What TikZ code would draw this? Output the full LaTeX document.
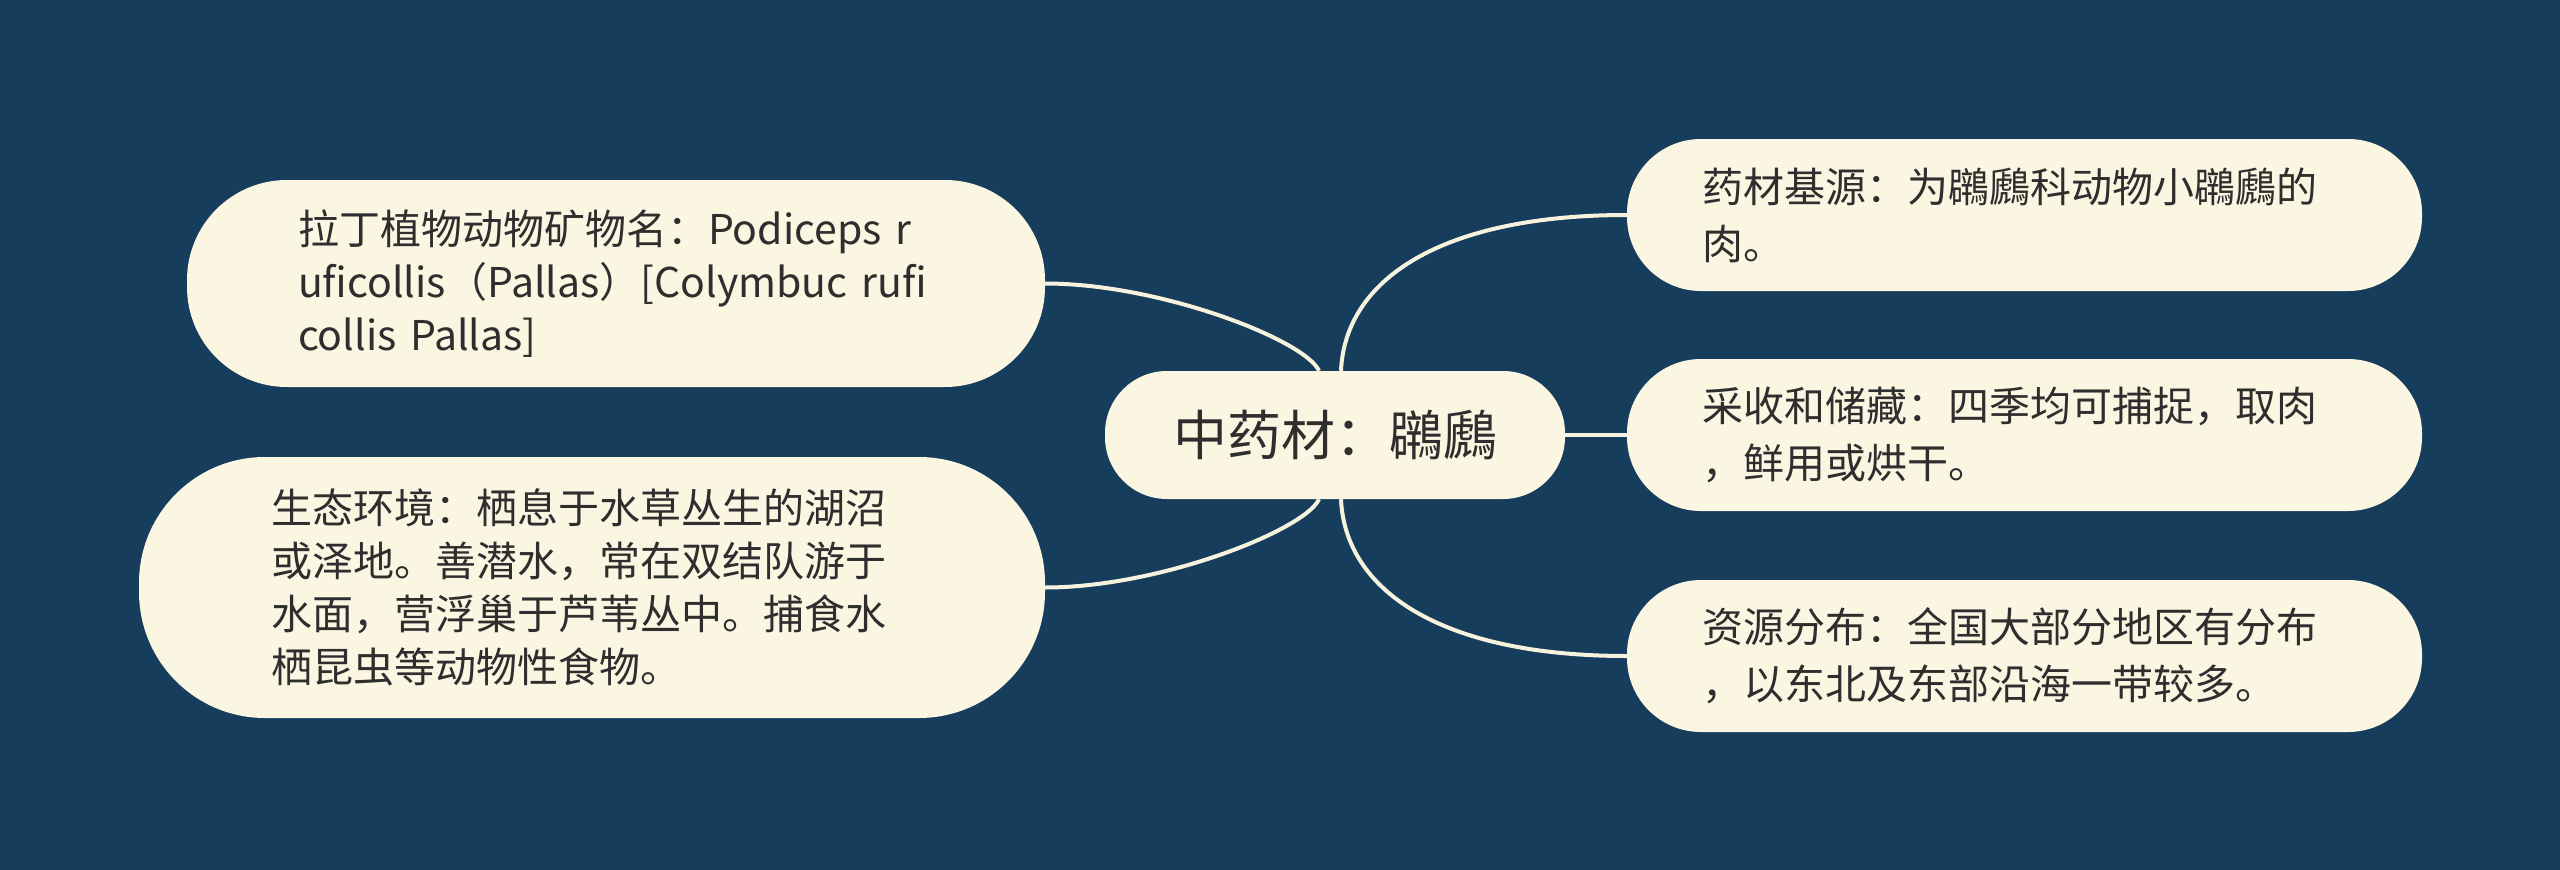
\documentclass[tikz,border=0pt]{standalone}
\usepackage{fontspec}
\setmainfont{Noto Sans CJK SC}
\definecolor{bgc}{HTML}{173D5C}
\definecolor{cream}{HTML}{FAF6E2}
\definecolor{linec}{HTML}{F7F2DE}
\definecolor{txt}{HTML}{2E2E2E}
\tikzset{
  box/.style={fill=cream, draw=none, text=txt, align=left, anchor=center},
  leafL/.style={box, font=\fontsize{41}{53}\selectfont},
  leafR/.style={box, font=\fontsize{41}{57}\selectfont, text width=645pt, inner xsep=75pt, inner ysep=0pt, minimum height=152pt, rounded corners=74pt},
  conn/.style={draw=linec, line width=4pt}
}
\begin{document}
\begin{tikzpicture}[x=1pt,y=-1pt]
\useasboundingbox (0,0) rectangle (2560,870);
\fill[bgc] (0,0) rectangle (2560,870);

\node[box, font=\fontsize{54}{60}\selectfont, align=center, minimum width=460pt, minimum height=128pt, inner sep=0pt, rounded corners=62pt] (c) at (1335,435) {中药材：鸊鷉};

\node[leafL, text width=636pt, inner xsep=111pt, inner ysep=0pt, minimum height=207pt, rounded corners=100pt] (tl) at (616,283.5)
  {拉丁植物动物矿物名：Podiceps r\\uficollis（Pallas）[Colymbuc rufi\\collis Pallas]};

\node[leafL, text width=642pt, inner xsep=132pt, inner ysep=0pt, minimum height=261pt, rounded corners=126pt] (bl) at (592,587.5)
  {生态环境：栖息于水草丛生的湖沼\\或泽地。善潜水，常在双结队游于\\水面，营浮巢于芦苇丛中。捕食水\\栖昆虫等动物性食物。};

\node[leafR] (tr) at (2024.5,215) {药材基源：为鸊鷉科动物小鸊鷉的\\肉。};
\node[leafR] (mr) at (2024.5,435) {采收和储藏：四季均可捕捉，取肉\\，鲜用或烘干。};
\node[leafR] (br) at (2024.5,656) {资源分布：全国大部分地区有分布\\，以东北及东部沿海一带较多。};

\draw[conn] ([xshift=-16pt]c.north) .. controls (1305,340) and (1160,283.5) .. (tl.east);
\draw[conn] ([xshift=6pt]c.north) .. controls (1345,280) and (1440,215) .. (tr.west);
\draw[conn] (c.east) -- (mr.west);
\draw[conn] ([xshift=-16pt]c.south) .. controls (1305,530) and (1160,587.5) .. (bl.east);
\draw[conn] ([xshift=6pt]c.south) .. controls (1345,590) and (1440,656) .. (br.west);
\end{tikzpicture}
\end{document}
